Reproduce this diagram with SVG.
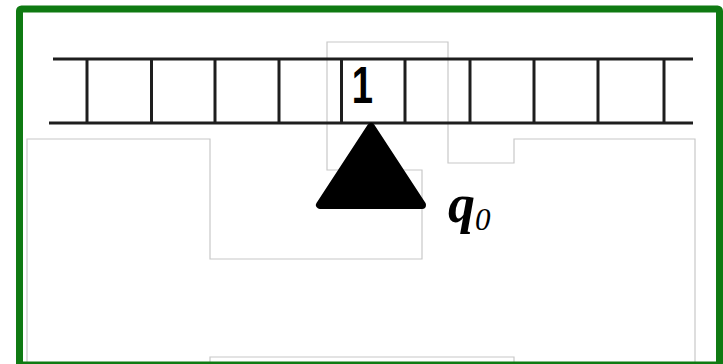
<svg xmlns="http://www.w3.org/2000/svg" width="723" height="364" viewBox="0 0 723 364">
  <style>
    .frame { fill: none; stroke: #0f7a12; stroke-width: 7; }
    .guide { fill: none; stroke: #c8c8c8; stroke-width: 1.2; }
    .rail { stroke: #1e1e1e; stroke-width: 3; stroke-linecap: butt; }
    .rung { stroke: #1e1e1e; stroke-width: 3; }
    .lbl { font-family: "Liberation Sans", Arial, sans-serif; font-weight: bold; fill: #000; }
    .math { font-family: "Liberation Serif", "Times New Roman", serif; font-style: italic; fill: #000; }
  </style>
  <rect width="723" height="364" fill="#ffffff"/>

  <g id="background-guides">
    <polyline class="guide" points="27,364 27,139 210,139 210,259 422,259 422,170 327,170 327,42 448,42 448,163 514,163 514,139 695,139 695,364"/>
    <polyline class="guide" points="210,364 210,357 514,357 514,364"/>
  </g>

  <g id="ladder">
    <line class="rail" x1="53" y1="59" x2="693" y2="59"/>
    <line class="rail" x1="49" y1="123" x2="693" y2="123"/>
    <line class="rung" x1="87" y1="59" x2="87" y2="123" stroke-width="4"/>
    <line class="rung" x1="151.5" y1="59" x2="151.5" y2="123"/>
    <line class="rung" x1="215" y1="59" x2="215" y2="123"/>
    <line class="rung" x1="279" y1="59" x2="279" y2="123"/>
    <line class="rung" x1="341.5" y1="59" x2="341.5" y2="123" stroke-width="3.5"/>
    <line class="rung" x1="405" y1="59" x2="405" y2="123"/>
    <line class="rung" x1="470" y1="59" x2="470" y2="123" stroke-width="3.5"/>
    <line class="rung" x1="534" y1="59" x2="534" y2="123"/>
    <line class="rung" x1="598" y1="59" x2="598" y2="123" stroke-width="3.5"/>
    <line class="rung" x1="664" y1="59" x2="664" y2="123"/>
  </g>

  <g id="cell-1">
    <text class="lbl" transform="translate(362.5,103) scale(0.75,1)" x="0" y="0" font-size="51" text-anchor="middle">1</text>
  </g>

  <g id="head-q0">
    <polygon points="371,127 320,205 422,205" fill="#000" stroke="#000" stroke-width="8" stroke-linejoin="round"/>
    <text class="math" x="448" y="222" font-size="54" font-weight="bold">q</text>
    <text class="math" x="475" y="230" font-size="31">0</text>
  </g>

  <g id="connectors"></g>

  <rect class="frame" x="19.5" y="9" width="700" height="356" rx="2"/>
</svg>
